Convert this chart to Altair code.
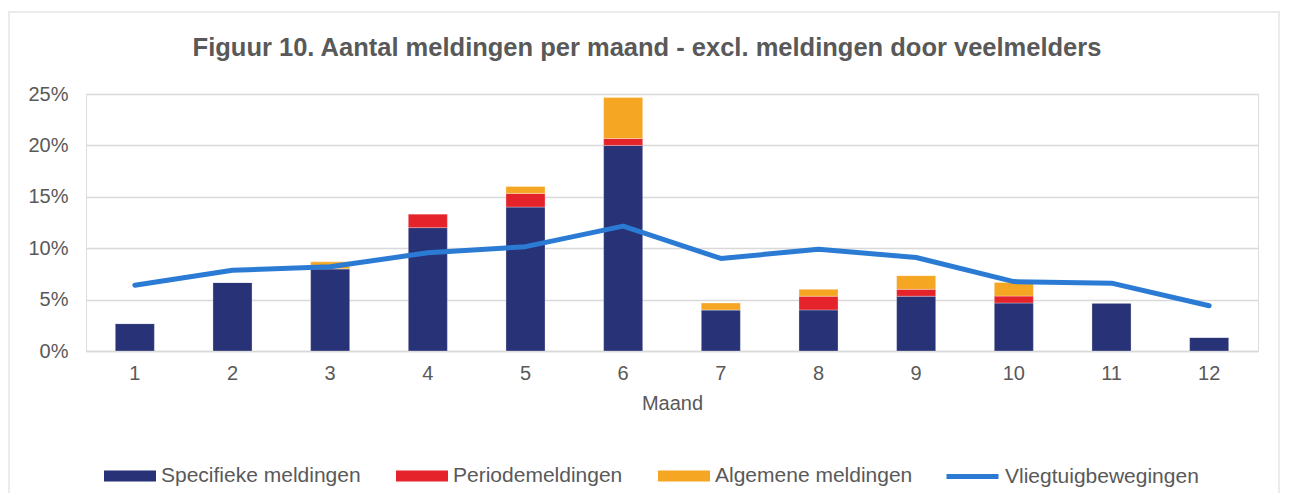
import altair as alt
import pandas as pd

months = [1, 2, 3, 4, 5, 6, 7, 8, 9, 10, 11, 12]
specifiek = [2.67, 6.67, 8.0, 12.0, 14.0, 20.0, 4.0, 4.0, 5.33, 4.67, 4.67, 1.33]
periode = [0, 0, 0, 1.33, 1.33, 0.67, 0, 1.33, 0.67, 0.67, 0, 0]
algemeen = [0, 0, 0.67, 0, 0.67, 4.0, 0.67, 0.67, 1.33, 1.33, 0, 0]
vliegtuig = [6.4, 7.85, 8.2, 9.55, 10.15, 12.15, 9.0, 9.9, 9.1, 6.75, 6.6, 4.4]

series = ["Specifieke meldingen", "Periodemeldingen", "Algemene meldingen"]
bar_colors = ["#283276", "#E4232B", "#F5A623"]
line_name = "Vliegtuigbewegingen"
line_color = "#2B7BD5"

rows = []
for i, m in enumerate(months):
    for k, (name, vals) in enumerate(zip(series, [specifiek, periode, algemeen])):
        rows.append({"Maand": m, "Reeks": name, "Waarde": vals[i], "Volgorde": k})
bars_df = pd.DataFrame(rows)
line_df = pd.DataFrame({"Maand": months, "Waarde": vliegtuig, "Serie": [line_name] * len(months)})

FONT = "Liberation Sans"
TXT = "#595959"
GRID = "#D9D9D9"

x_enc = alt.X("Maand:O", title="Maand",
              scale=alt.Scale(paddingInner=0.6, paddingOuter=0.3),
              axis=alt.Axis(labelAngle=0, ticks=False, domainColor=GRID, domainWidth=1.5,
                            labelFontSize=20, labelColor=TXT, labelFont=FONT, labelPadding=12,
                            titleFontSize=20, titleColor=TXT, titleFont=FONT, titleFontWeight="normal",
                            titlePadding=10))
y_scale = alt.Scale(domain=[0, 25])
y_axis = alt.Axis(values=[0, 5, 10, 15, 20, 25], labelExpr="datum.value + '%'", ticks=False, domain=False,
                  gridColor=GRID, gridWidth=1.5, labelFontSize=20, labelColor=TXT, labelFont=FONT,
                  labelPadding=18, title=None)

border = alt.Chart(pd.DataFrame({"a": [0]})).mark_rect(fill="transparent", stroke="#EBEBEB", strokeWidth=2, clip=False).encode(
    x=alt.value(-77), x2=alt.value(1193), y=alt.value(-82), y2=alt.value(420)
)

bars = alt.Chart(bars_df).mark_bar(stroke="#ffffff", strokeWidth=0.5, strokeOpacity=0.6).encode(
    x=x_enc,
    y=alt.Y("Waarde:Q", stack="zero", scale=y_scale, axis=y_axis),
    fill=alt.Fill("Reeks:N", scale=alt.Scale(domain=series, range=bar_colors),
                  legend=alt.Legend(title=None, orient="none", direction="horizontal",
                                    legendX=18, legendY=356, symbolType="M-1,-0.21H1V0.21H-1Z",
                                    symbolSize=2704, symbolStrokeWidth=0, labelFontSize=21,
                                    labelColor=TXT, labelFont=FONT, labelOffset=5, columnPadding=35,
                                    labelLimit=400)),
    order=alt.Order("Volgorde:Q"),
)

line = alt.Chart(line_df).mark_line(strokeWidth=5, strokeCap="round", strokeJoin="round").encode(
    x=alt.X("Maand:O"),
    y=alt.Y("Waarde:Q", scale=y_scale),
    stroke=alt.Stroke("Serie:N", scale=alt.Scale(domain=[line_name], range=[line_color]),
                      legend=alt.Legend(title=None, orient="none", direction="horizontal",
                                        legendX=858, legendY=354, symbolType="stroke",
                                        symbolSize=2704, symbolStrokeWidth=5, labelFontSize=21,
                                        labelColor=TXT, labelFont=FONT, labelOffset=4, labelLimit=400)),
)

chart = alt.layer(border, bars, line).properties(
    width=1172, height=257,
    title=alt.TitleParams("Figuur 10. Aantal meldingen per maand - excl. meldingen door veelmelders",
                          fontSize=25.5, font=FONT, fontWeight="bold", color=TXT, anchor="middle",
                          frame="group", offset=-50, dx=-25),
    autosize=alt.AutoSizeParams(type="none"),
    padding={"left": 78, "top": 86, "right": 24, "bottom": 142},
).configure_view(stroke=None).configure(background="white")

chart.save("out.html", embed_options={"renderer": "svg", "actions": False})
